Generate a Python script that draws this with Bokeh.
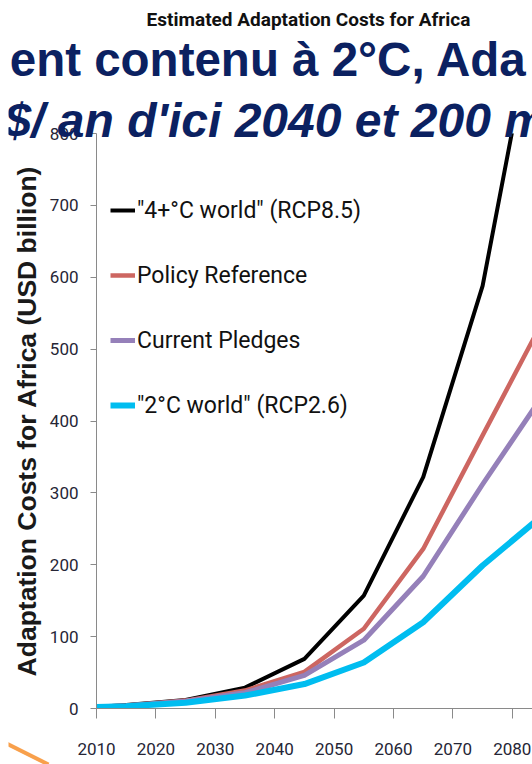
from bokeh.plotting import figure
from bokeh.models import Range1d, FixedTicker, Legend, LegendItem, Label
from bokeh.embed import file_html
from bokeh.resources import INLINE

# ---- data ----
years = [2010, 2015, 2025, 2035, 2045, 2055, 2065, 2075, 2085]
rcp85 = [2, 5, 12, 29, 69, 157, 322, 588, 1020]
policy_ref = [2, 4, 11, 25, 51, 111, 222, 380, 537]
pledges = [2, 4, 10, 22, 46, 95, 184, 312, 434]
rcp26 = [2, 3, 8, 18, 34, 64, 120, 199, 268]
series_names = ['"4+°C world" (RCP8.5)', "Policy Reference", "Current Pledges", '"2°C world" (RCP2.6)']
series_colors = ["#000000", "#cd6661", "#9580b9", "#00bdf0"]
x_ticks = [2010, 2020, 2030, 2040, 2050, 2060, 2070, 2080]
y_ticks = [0, 100, 200, 300, 400, 500, 600, 700, 800]
chart_title = "Estimated Adaptation Costs for Africa"
y_label = "Adaptation Costs for Africa (USD billion)"
slide_line1 = "ment contenu à 2°C, Ada"
slide_line2 = "$/ an d'ici 2040 et 200 m"
# decorative slide stroke (overlay pixel coordinates)
deco_x = [-8, 40]
deco_y = [732, 756]

LABEL_FONT = "Roboto"
SANS = "Liberation Sans"
NAVY = "#0b2161"
W, H = 524, 756
POS = {"position": "absolute", "top": "8px", "left": "8px"}

# ---------------- chart ----------------
p = figure(width=W, height=H, output_backend="svg", toolbar_location=None,
           x_range=Range1d(2010, 2083.4), y_range=Range1d(0, 800),
           min_border_left=88, min_border_right=0, min_border_top=125, min_border_bottom=56,
           styles=POS)
p.outline_line_color = None
p.xgrid.visible = False
p.ygrid.visible = False
p.background_fill_color = "white"

widths = [4, 4.5, 5, 6]
renderers = []
for vals, col, w in zip([rcp85, policy_ref, pledges, rcp26], series_colors, widths):
    r = p.line(years, vals, line_color=col, line_width=w, line_join="round")
    renderers.append(r)

for ax in (p.xaxis[0], p.yaxis[0]):
    ax.axis_line_color = "#8a8a8a"
    ax.major_tick_line_color = "#8a8a8a"
    ax.minor_tick_line_color = None
    ax.major_tick_in = 0
    ax.major_label_text_font = LABEL_FONT
    ax.major_label_text_color = "#262636"
    ax.major_label_text_font_size = "17px"

p.xaxis[0].ticker = FixedTicker(ticks=x_ticks)
p.xaxis[0].major_tick_out = 10
p.xaxis[0].major_label_standoff = 24

p.yaxis[0].ticker = FixedTicker(ticks=y_ticks)
p.yaxis[0].major_tick_out = 6
p.yaxis[0].major_label_standoff = 12
p.yaxis[0].axis_label = y_label
p.yaxis[0].axis_label_text_font = SANS
p.yaxis[0].axis_label_text_font_style = "bold"
p.yaxis[0].axis_label_text_font_size = "26.5px"
p.yaxis[0].axis_label_text_color = "#1a1a1a"
p.yaxis[0].axis_label_standoff = 5

legend = Legend(items=[LegendItem(label=n, renderers=[r]) for n, r in zip(series_names, renderers)],
                location=(14, 283))
legend.label_text_font = LABEL_FONT
legend.label_text_font_size = "23px"
legend.label_text_color = "#111111"
legend.glyph_width = 25
legend.glyph_height = 40
legend.label_height = 40
legend.label_standoff = 2
legend.spacing = 25
legend.padding = 0
legend.margin = 0
legend.background_fill_alpha = 0
legend.border_line_alpha = 0
p.add_layout(legend)

# ---------------- slide text overlay (same size, stacked on top) ----------------
ov = figure(width=W, height=H, output_backend="svg", toolbar_location=None,
            x_range=Range1d(0, W), y_range=Range1d(H, 0),
            x_axis_location=None, y_axis_location=None, min_border=0,
            styles=POS)
ov.outline_line_color = None
ov.grid.visible = False
ov.background_fill_alpha = 0
ov.border_fill_alpha = 0

ov.add_layout(Label(x=300, y=11, text=chart_title,
                    text_font=LABEL_FONT, text_font_style="bold", text_font_size="19px",
                    text_color="#111111", text_align="center", text_baseline="middle"))
ov.add_layout(Label(x=-41, y=51, text=slide_line1,
                    text_font=SANS, text_font_style="bold", text_font_size="47.5px",
                    text_color=NAVY, text_align="left", text_baseline="middle"))
ov.add_layout(Label(x=-4, y=112, text=slide_line2,
                    text_font=SANS, text_font_style="bold italic", text_font_size="48px",
                    text_color=NAVY, text_align="left", text_baseline="middle"))
ov.line(deco_x, deco_y, line_color="#f8a04c", line_width=4)

open("out.html", "w").write(file_html([p, ov], INLINE))
